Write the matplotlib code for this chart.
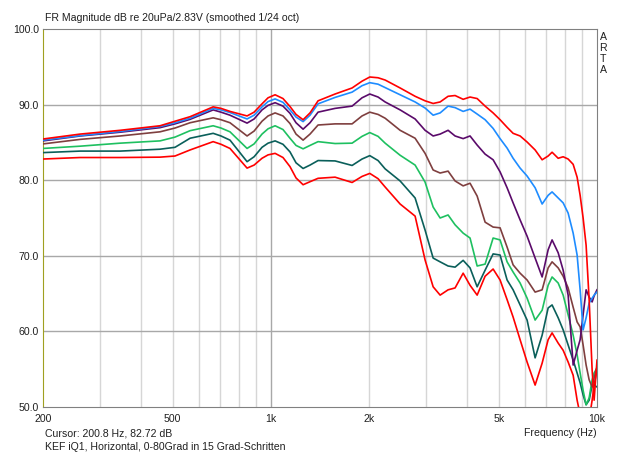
import matplotlib
matplotlib.use("Agg")
import matplotlib.pyplot as plt

# frequency grid (Hz)
freq = [200, 260, 345, 457, 508, 565, 665, 703, 749, 845, 888, 939, 980, 1030, 1089, 1144, 1194,
        1255, 1318, 1395, 1573, 1774, 1903, 2010, 2131, 2240, 2490, 2768, 2970, 3144, 3303, 3494,
        3671, 3886, 4080, 4290, 4538, 4802, 5044, 5300, 5530, 5810, 6104, 6460, 6788, 7082, 7282,
        7602, 7874, 8156, 8450, 8690, 8877, 9066, 9260, 9460, 9662, 9798, 10000]

# magnitude in dB, 0..90 deg off axis
deg0 = [85.45, 86.1, 86.6, 87.2, 87.8, 88.4, 89.7, 89.5, 89.1, 88.5, 89.0, 90.1, 90.9, 91.3, 90.8, 89.75, 88.7,
        88.0, 88.9, 90.5, 91.4, 92.2, 93.1, 93.65, 93.55, 93.25, 92.2, 91.1, 90.5, 90.15, 90.35, 91.1,
        91.2, 90.7, 91.0, 90.8, 89.8, 88.9, 88.0, 87.0, 86.2, 85.85, 85.05, 84.0, 82.7, 83.2, 83.7,
        82.9, 83.1, 82.8, 82.1, 80.4, 78.0, 75.0, 71.4, 64.2, 54.9, 50.9, 56.2]
deg15 = [85.3, 85.9, 86.45, 87.1, 87.6, 88.2, 89.5, 89.3, 88.95, 88.1, 88.6, 89.7, 90.4, 90.75, 90.3, 89.3, 88.35,
         87.75, 88.6, 90.1, 90.95, 91.65, 92.5, 92.9, 92.7, 92.25, 91.3, 90.35, 89.55, 88.6, 88.9, 89.8,
         89.6, 89.1, 89.4, 88.75, 88.0, 86.85, 85.5, 84.25, 82.9, 81.6, 80.55, 79.0, 76.85, 78.0, 78.45,
         77.65, 77.0, 75.65, 73.0, 70.1, 65.5, 60.2, 61.8, 63.75, 64.4, 64.8, 65.2]
deg30 = [85.2, 85.85, 86.35, 86.95, 87.45, 88.05, 89.3, 89.0, 88.6, 87.55, 88.1, 89.3, 89.9, 90.25, 89.8, 88.85, 87.6,
         86.75, 87.6, 89.0, 89.5, 89.8, 90.9, 91.4, 91.0, 90.35, 89.3, 88.1, 86.6, 85.85, 86.1, 86.6,
         85.85, 85.5, 85.85, 84.65, 83.45, 82.7, 81.1, 79.0, 77.0, 74.75, 72.6, 69.7, 67.2, 70.8, 72.1,
         70.4, 68.1, 64.8, 55.55, 57.5, 58.9, 62.2, 65.5, 64.55, 63.9, 64.7, 65.5]
deg45 = [84.8, 85.4, 85.85, 86.4, 86.9, 87.6, 88.25, 88.0, 87.6, 85.85, 86.5, 87.8, 88.5, 88.9, 88.5, 87.5, 86.1,
         85.3, 86.1, 87.3, 87.45, 87.45, 88.5, 89.0, 88.7, 88.2, 86.6, 85.55, 83.55, 81.35, 80.95, 81.2,
         79.9, 79.25, 79.6, 77.9, 74.45, 73.8, 73.7, 71.15, 68.8, 67.7, 66.8, 65.2, 65.5, 68.4, 69.2,
         68.4, 67.3, 65.75, 63.2, 61.25, 60.6, 58.2, 55.55, 53.6, 52.65, 53.85, 55.3]
deg60 = [84.2, 84.5, 84.9, 85.2, 85.7, 86.55, 87.2, 86.9, 86.4, 84.2, 84.8, 86.1, 86.8, 87.2, 86.7, 85.55, 84.6,
         84.15, 84.6, 85.1, 84.85, 84.9, 85.8, 86.3, 85.8, 84.9, 83.3, 82.0, 79.75, 76.45, 75.0, 75.4,
         74.1, 73.0, 72.35, 68.65, 68.9, 72.35, 72.1, 69.2, 67.85, 66.4, 64.4, 61.5, 62.8, 66.1, 67.2,
         66.4, 64.8, 62.2, 59.5, 56.9, 54.5, 52.2, 50.3, 51.2, 53.6, 54.5, 55.15]
deg75 = [83.65, 83.85, 83.85, 84.1, 84.35, 85.55, 86.2, 85.85, 85.3, 82.45, 83.1, 84.35, 84.9, 85.2, 84.75, 83.75, 82.3,
         81.55, 82.0, 82.6, 82.55, 81.95, 82.8, 83.25, 82.6, 81.5, 79.9, 77.65, 73.4, 69.7, 69.2, 68.65,
         68.5, 69.4, 68.4, 65.9, 68.1, 70.25, 70.1, 66.8, 65.5, 63.5, 61.5, 56.5, 59.5, 63.1, 63.5,
         61.8, 60.2, 58.2, 56.2, 54.5, 53.2, 51.6, 50.3, 50.9, 52.9, 52.9, 52.65]
deg90 = [82.8, 83.0, 83.0, 83.05, 83.2, 84.0, 85.1, 84.75, 84.2, 81.6, 82.0, 82.9, 83.35, 83.55, 83.0, 81.8, 80.3,
         79.4, 79.8, 80.25, 80.4, 79.7, 80.5, 80.9, 80.2, 79.1, 76.85, 75.25, 69.45, 65.9, 64.8, 65.5,
         65.75, 67.7, 66.1, 64.8, 67.3, 68.25, 66.8, 64.2, 61.9, 58.9, 55.95, 52.9, 55.8, 58.9, 59.8,
         58.45, 57.5, 55.95, 54.2, 50.9, 49.0, 47.6, 47.6, 48.3, 50.9, 52.9, 54.9]

curves = [deg90, deg75, deg60, deg45, deg30, deg15, deg0]
colors = ['#ff0000', '#0a5f5a', '#1ec060', '#7f3f3f', '#5a0a6a', '#1e8cff', '#ff0000']

xticks = [200, 500, 1000, 2000, 5000, 10000]
xticklabels = ['200', '500', '1k', '2k', '5k', '10k']
yticks = [50, 60, 70, 80, 90, 100]

plt.rcParams['font.family'] = ['Liberation Sans', 'DejaVu Sans']

fig = plt.figure(figsize=(6.4, 4.55), dpi=100)
ax = fig.add_axes([43 / 640, 1 - 407 / 455, 554 / 640, 378 / 455])

# grid lines
for f in [300, 400, 500, 600, 700, 800, 900, 2000, 3000, 4000, 5000, 6000, 7000, 8000, 9000]:
    ax.axvline(f, color='#d6d6d6', lw=1.0, zorder=1)
ax.axvline(1000, color='#a8a8a8', lw=1.0, zorder=1)
for v in [60, 70, 80, 90]:
    ax.axhline(v, color='#a8a8a8', lw=1.0, zorder=1)

for vals, c in zip(curves, colors):
    ax.plot(freq, vals, color=c, lw=1.2, zorder=3)

ax.set_xscale('log')
ax.set_xlim(200, 10000)
ax.set_ylim(50, 100)
ax.set_xticks(xticks)
ax.set_xticklabels(xticklabels)
ax.xaxis.set_minor_locator(matplotlib.ticker.NullLocator())
ax.set_yticks(yticks)
ax.set_yticklabels(['%.1f' % v for v in yticks])
ax.tick_params(axis='both', length=0, labelsize=7.6, colors='#202020')
ax.tick_params(axis='x', pad=5)
ax.tick_params(axis='y', pad=3)

for s in ['top', 'right', 'bottom']:
    ax.spines[s].set_color('#808080')
ax.spines['left'].set_color('#a0a020')

fig.text(45 / 640, 1 - 18 / 455, 'FR Magnitude dB re 20uPa/2.83V (smoothed 1/24 oct)',
         fontsize=7.6, va='center', ha='left', color='#202020')
fig.text(45 / 640, 1 - 433 / 455, 'Cursor: 200.8 Hz, 82.72 dB', fontsize=7.6,
         va='center', ha='left', color='#202020')
fig.text(45 / 640, 1 - 447 / 455, 'KEF iQ1, Horizontal, 0-80Grad in 15 Grad-Schritten',
         fontsize=7.6, va='center', ha='left', color='#202020')
fig.text(597 / 640, 1 - 433 / 455, 'Frequency (Hz)', fontsize=7.6, va='center', ha='right',
         color='#202020')
for i, ch in enumerate('ARTA'):
    fig.text(603 / 640, 1 - (37 + i * 11) / 455, ch, fontsize=7.6, va='center', ha='center',
             color='#202020')

fig.savefig('out.png', dpi=100)
